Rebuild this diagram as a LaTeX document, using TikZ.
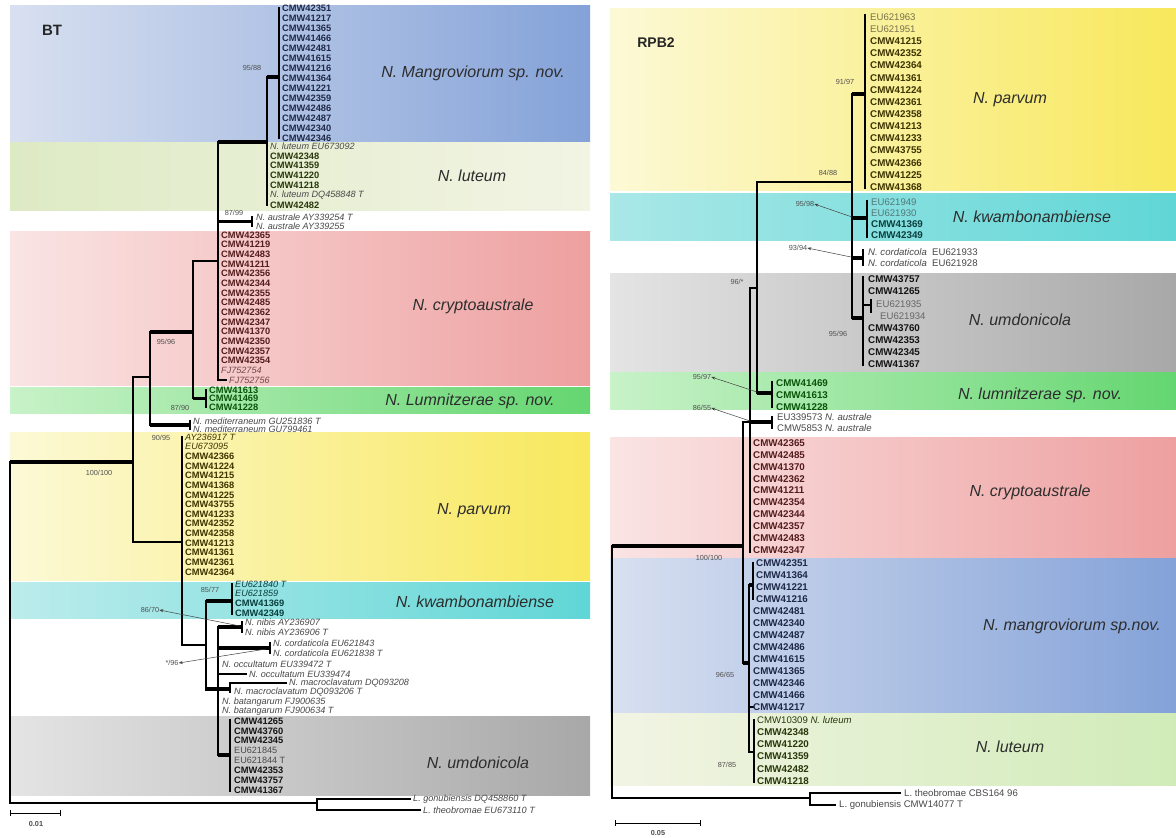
\documentclass[tikz,border=0pt]{standalone}
\usepackage{fontspec}
\setmainfont{Liberation Sans}
\usetikzlibrary{arrows.meta}
\definecolor{bgBlueL}{RGB}{216,224,240}\definecolor{bgBlueR}{RGB}{132,162,216}
\definecolor{bgLutL}{RGB}{222,234,196}\definecolor{bgLutR}{RGB}{242,244,228}
\definecolor{bgPinkL}{RGB}{250,228,228}\definecolor{bgPinkR}{RGB}{238,160,160}
\definecolor{bgGrnL}{RGB}{200,242,200}\definecolor{bgGrnR}{RGB}{100,214,112}
\definecolor{bgYelL}{RGB}{252,249,214}\definecolor{bgYelR}{RGB}{248,232,92}
\definecolor{bgCyaL}{RGB}{188,236,236}\definecolor{bgCyaR}{RGB}{96,214,214}
\definecolor{bgGryL}{RGB}{228,228,228}\definecolor{bgGryR}{RGB}{168,168,168}
\definecolor{tMang}{RGB}{30,40,72}
\definecolor{tLut}{RGB}{40,56,10}
\definecolor{tPink}{RGB}{84,28,28}
\definecolor{tGrn}{RGB}{10,84,10}
\definecolor{tYel}{RGB}{62,52,0}
\definecolor{tCya}{RGB}{10,62,62}
\definecolor{tGry}{RGB}{20,20,20}
\definecolor{gbc}{RGB}{72,72,72}
\definecolor{bsc}{RGB}{80,80,80}
\definecolor{cladec}{RGB}{45,45,45}
\tikzset{
  lf/.style={anchor=west,inner sep=0pt,font=\fontsize{9.3}{9.5}\selectfont\bfseries},
  rlf/.style={anchor=west,inner sep=0pt,font=\fontsize{9.8}{10}\selectfont\bfseries},
  gb/.style={anchor=west,inner sep=0pt,text=gbc,font=\fontsize{9.1}{9.5}\selectfont\itshape},
  rgb/.style={anchor=west,inner sep=0pt,text=gbc,font=\fontsize{9.6}{10}\selectfont},
  br/.style={line width=1.2pt,line cap=rect},
  tk/.style={line width=3.2pt},
  bs/.style={inner sep=0pt,text=bsc,font=\fontsize{7.3}{8}\selectfont},
  clade/.style={inner sep=0pt,text=cladec,font=\fontsize{16}{18}\selectfont\itshape},
  arr/.style={-{Stealth[length=4pt,width=3pt]},line width=0.5pt,draw=black!75},
}
\begin{document}
\begin{tikzpicture}[x=1pt,y=-1pt]
\useasboundingbox (0,0) rectangle (1176,838);
\fill[white] (0,0) rectangle (1176,838);
% ================= LEFT PANEL (BT) backgrounds
\shade[left color=bgBlueL,right color=bgBlueR] (10,5) rectangle (590,142);
\shade[left color=bgLutL,right color=bgLutR] (10,142) rectangle (590,210);
\shade[left color=bgPinkL,right color=bgPinkR] (10,231) rectangle (590,385);
\shade[left color=bgGrnL,right color=bgGrnR] (10,387) rectangle (590,413);
\shade[left color=bgYelL,right color=bgYelR] (10,432) rectangle (590,580);
\shade[left color=bgCyaL,right color=bgCyaR] (10,582) rectangle (590,618);
\shade[left color=bgGryL,right color=bgGryR] (10,716) rectangle (590,795);
% ================= RIGHT PANEL (RPB2) backgrounds
\shade[left color=bgYelL,right color=bgYelR] (610,8) rectangle (1176,190);
\shade[left color=bgCyaL!80!bgCyaR,right color=bgCyaR] (610,193) rectangle (1176,240);
\shade[left color=bgGryL,right color=bgGryR] (610,273) rectangle (1176,372);
\shade[left color=bgGrnL,right color=bgGrnR] (610,372) rectangle (1176,409);
\shade[left color=bgPinkL,right color=bgPinkR] (610,437) rectangle (1176,557);
\shade[left color=bgBlueL,right color=bgBlueR] (610,558) rectangle (1176,712);
\shade[left color=bgLutR,right color=bgLutL!90!green!60!bgLutL] (610,713) rectangle (1176,785);

% panel titles
\node[inner sep=0pt,font=\fontsize{15}{17}\selectfont\bfseries,text=black!85] (tBT) at (52,30) {BT};
\node[inner sep=0pt,font=\fontsize{14}{16}\selectfont\bfseries,text=black!85] (tRPB) at (656,43) {RPB2};

% clade labels left
\node[clade] (cL1) at (473,73) {N. Mangroviorum sp. nov.};
\node[clade] (cL2) at (472,176) {N. luteum};
\node[clade] (cL3) at (473,306) {N. cryptoaustrale};
\node[clade] (cL4) at (470,401) {N. Lumnitzerae sp. nov.};
\node[clade] (cL5) at (474,511) {N. parvum};
\node[clade] (cL6) at (475,602) {N. kwambonambiense};
\node[clade] (cL7) at (478,763) {N. umdonicola};
% clade labels right
\node[clade] (cR1) at (1010,100) {N. parvum};
\node[clade] (cR2) at (1032,217) {N. kwambonambiense};
\node[clade] (cR3) at (1020,320) {N. umdonicola};
\node[clade] (cR4) at (1040,395) {N. lumnitzerae sp. nov.};
\node[clade] (cR5) at (1030,492) {N. cryptoaustrale};
\node[clade] (cR6) at (1072,626) {N. mangroviorum sp.nov.};
\node[clade] (cR7) at (1010,747) {N. luteum};

% ================= LEFT TREE
\draw[br] (279,8)--(279,138);
\draw[tk] (267,77)--(279,77);
\draw[br] (267,77)--(267,205);
\draw[tk] (218,142)--(267,142);
\draw[br] (218,142)--(218,380);
\draw[tk] (218,221.5)--(252,221.5);
\draw[br] (252,217)--(252,226);
\draw[br] (218,380)--(226,380);
\draw[br] (193,261)--(218,261);
\draw[br] (193,261)--(193,398);
\draw[tk] (193,398.5)--(206,398.5);
\draw[br] (206,390)--(206,407);
\draw[tk] (150,332)--(193,332);
\draw[br] (150,332)--(150,425);
\draw[tk] (150,425)--(190,425);
\draw[br] (190,421)--(190,429);
\draw[br] (133,377)--(150,377);
\draw[br] (133,377)--(133,542);
\draw[tk] (10,462)--(133,462);
\draw[br] (133,542)--(182,542);
\draw[br] (182,437)--(182,645);
\draw[br] (182,645)--(206,645);
\draw[br] (206,601)--(206,690);
\draw[tk] (206,601)--(232,601);
\draw[br] (232,584)--(232,614);
\draw[tk] (206,689)--(230,689);
\draw[br] (218,627)--(218,755);
\draw[tk] (218,627)--(242,627);
\draw[br] (242,622)--(242,632);
\draw[tk] (218,648)--(270,648);
\draw[br] (270,643)--(270,653);
\draw[br] (218,674)--(246,674);
\draw[br] (230,683)--(230,692);
\draw[br] (230,683)--(286,683);
\draw[tk] (218,755)--(230,755);
\draw[br] (230,720)--(230,791);
\draw[br] (10,462)--(10,803);
\draw[br] (10,803)--(317,803);
\draw[br] (317,799)--(317,810);
\draw[br] (317,799)--(410,799);
\draw[br] (317,810)--(420,810);
\coordinate (nNib) at (240,626);
\coordinate (nCor) at (266,649);

% left leaves
\foreach [count=\i from 0] \t in {CMW42351,CMW41217,CMW41365,CMW41466,CMW42481,CMW41615,CMW41216,CMW41364,CMW41221,CMW42359,CMW42486,CMW42487,CMW42340,CMW42346}
  \node[lf,text=tMang] (Lm\i) at (282,8+10*\i) {\t};
\node[gb] (Ll0) at (270,146) {N. luteum EU673092};
\foreach [count=\i from 1] \t in {CMW42348,CMW41359,CMW41220,CMW41218}
  \node[lf,text=tLut] (Ll\i) at (270,146+9.83*\i) {\t};
\node[gb] (Ll5) at (270,195.2) {N. luteum DQ458848 T};
\node[lf,text=tLut] (Ll6) at (270,205) {CMW42482};
\node[gb] (La0) at (256,217) {N. australe AY339254 T};
\node[gb] (La1) at (256,226.5) {N. australe AY339255};
\foreach [count=\i from 0] \t in {CMW42365,CMW41219,CMW42483,CMW41211,CMW42356,CMW42344,CMW42355,CMW42485,CMW42362,CMW42347,CMW41370,CMW42350,CMW42357,CMW42354}
  \node[lf,text=tPink] (Lc\i) at (221,235+9.67*\i) {\t};
\node[gb,text=tPink!80] (Lc14) at (221,370.4) {FJ752754};
\node[gb,text=tPink!80] (Lc15) at (229,380) {FJ752756};
\node[lf,text=tGrn] (Lg0) at (209,390) {CMW41613};
\node[lf,text=tGrn] (Lg1) at (209,398.5) {CMW41469};
\node[lf,text=tGrn] (Lg2) at (209,407) {CMW41228};
\node[gb] (Ld0) at (193,421) {N. mediterraneum GU251836 T};
\node[gb] (Ld1) at (193,429.5) {N. mediterraneum GU799461};
\node[gb,text=tYel] (Lp0) at (185,437) {AY236917 T};
\node[gb,text=tYel] (Lp1) at (185,446.6) {EU673095};
\foreach [count=\i from 2] \t in {CMW42366,CMW41224,CMW41215,CMW41368,CMW41225,CMW43755,CMW41233,CMW42352,CMW42358,CMW41213,CMW41361,CMW42361,CMW42364}
  \node[lf,text=tYel] (Lp\i) at (185,437+9.64*\i) {\t};
\node[gb,text=tCya] (Lk0) at (235,584) {EU621840 T};
\node[gb,text=tCya] (Lk1) at (235,593.7) {EU621859};
\node[lf,text=tCya] (Lk2) at (235,603.3) {CMW41369};
\node[lf,text=tCya] (Lk3) at (235,613) {CMW42349};
\node[gb] (Ln0) at (245,622) {N. nibis AY236907};
\node[gb] (Ln1) at (245,632) {N. nibis AY236906 T};
\node[gb] (Lo0) at (273,643) {N. cordaticola EU621843};
\node[gb] (Lo1) at (273,653) {N. cordaticola EU621838 T};
\node[gb] (Lu0) at (222,664) {N. occultatum EU339472 T};
\node[gb] (Lu1) at (249,674) {N. occultatum EU339474};
\node[gb] (Lv0) at (289,683) {N. macroclavatum DQ093208};
\node[gb] (Lv1) at (234,692.5) {N. macroclavatum DQ093206 T};
\node[gb] (Lb0) at (222,702) {N. batangarum FJ900635};
\node[gb] (Lb1) at (222,711) {N. batangarum FJ900634 T};
\foreach [count=\i from 0] \t in {CMW41265,CMW43760,CMW42345}
  \node[lf,text=tGry] (Lx\i) at (234,721+9.86*\i) {\t};
\node[rgb,font=\fontsize{9.1}{9.5}\selectfont] (Lx3) at (234,750.6) {EU621845};
\node[rgb,font=\fontsize{9.1}{9.5}\selectfont] (Lx4) at (234,760.4) {EU621844 T};
\foreach [count=\i from 5] \t in {CMW42353,CMW43757,CMW41367}
  \node[lf,text=tGry] (Lx\i) at (234,721+9.86*\i) {\t};
\node[gb] (Lo2) at (413,799) {L. gonubiensis DQ458860 T};
\node[gb] (Lo3) at (423,810) {L. theobromae EU673110 T};

% left support values
\node[bs] (b1) at (252,68) {95/88};
\node[bs] (b2) at (234,213) {87/99};
\node[bs] (b3) at (166,342) {95/96};
\node[bs] (b4) at (180,408) {87/90};
\node[bs] (b5) at (161,438) {90/95};
\node[bs] (b6) at (99,473) {100/100};
\node[bs] (b7) at (210,590) {85/77};
\node[bs] (b8) at (150,610) {86/70};
\node[bs] (b9) at (172,663) {*/96};
\draw[arr] (nNib) -- (b8.east);
\draw[arr] (nCor) -- (b9.east);

% left scale bar
\draw[line width=1pt] (10,813)--(60,813);
\draw[line width=1pt] (10,810)--(10,816) (60,810)--(60,816);
\node[inner sep=0pt,font=\fontsize{7.3}{8}\selectfont\bfseries,text=black!70] (sc1) at (36,824) {0.01};

% ================= RIGHT TREE
\draw[br] (612,546)--(612,798);
\draw[tk] (612,546)--(743,546);
\draw[br] (743,422)--(743,663);
\draw[br] (743,422)--(750,422);
\draw[br] (750,288)--(750,552);
\draw[tk] (750,422)--(772,422);
\draw[br] (772,417)--(772,428);
\draw[br] (750,288)--(757,288);
\draw[br] (757,182)--(757,393);
\draw[tk] (757,393)--(772,393);
\draw[br] (772,382)--(772,407);
\draw[br] (757,182)--(852,182);
\draw[br] (852,94)--(852,318);
\draw[tk] (852,94)--(865,94);
\draw[br] (865,15)--(865,188);
\draw[tk] (852,218)--(867,218);
\draw[br] (867,201)--(867,237);
\draw[tk] (852,258)--(863,258);
\draw[br] (863,250)--(863,265);
\draw[tk] (852,318)--(863,318);
\draw[br] (863,277)--(863,365);
\draw[br] (863,305)--(871,305);
\draw[br] (871,300)--(871,312);
\draw[tk] (743,663)--(749,663);
\draw[br] (749,585)--(749,752);
\draw[tk] (749,585)--(753,585);
\draw[br] (753,563)--(753,599);
\draw[br] (749,707)--(753,707);
\draw[br] (749,752)--(754,752);
\draw[br] (754,720)--(754,782);
\draw[br] (612,798)--(810,798);
\draw[br] (810,793)--(810,805);
\draw[br] (810,793)--(900,793);
\draw[br] (810,805)--(835,805);
\coordinate (rKw) at (852,217);
\coordinate (rCo) at (851,257);
\coordinate (rLu) at (757,392);
\coordinate (rAu) at (750,421);

% right leaves
\node[rgb,text=tYel!70] (Rp0) at (870,17) {EU621963};
\node[rgb,text=tYel!70] (Rp1) at (870,29.1) {EU621951};
\foreach [count=\i from 2] \t in {CMW41215,CMW42352,CMW42364,CMW41361,CMW41224,CMW42361,CMW42358,CMW41213,CMW41233,CMW43755,CMW42366,CMW41225,CMW41368}
  \node[rlf,text=tYel] (Rp\i) at (870,17+12.14*\i) {\t};
\node[rgb,text=tCya!70] (Rk0) at (871,202) {EU621949};
\node[rgb,text=tCya!70] (Rk1) at (871,213) {EU621930};
\node[rlf,text=tCya] (Rk2) at (871,224) {CMW41369};
\node[rlf,text=tCya] (Rk3) at (871,235) {CMW42349};
\node[rgb] (Ro0) at (868,252) {\textit{N. cordaticola} \ EU621933};
\node[rgb] (Ro1) at (868,263) {\textit{N. cordaticola} \ EU621928};
\node[rlf,text=tGry] (Rx0) at (868,279.5) {CMW43757};
\node[rlf,text=tGry] (Rx1) at (868,291.5) {CMW41265};
\node[rgb,text=black!60] (Rx2) at (876,304.5) {EU621935};
\node[rgb,text=black!60] (Rx3) at (880,316.5) {EU621934};
\foreach [count=\i from 4] \t in {CMW43760,CMW42353,CMW42345,CMW41367}
  \node[rlf,text=tGry] (Rx\i) at (868,280+12*\i) {\t};
\node[rlf,text=tGrn] (Rg0) at (776,383) {CMW41469};
\node[rlf,text=tGrn] (Rg1) at (776,395) {CMW41613};
\node[rlf,text=tGrn] (Rg2) at (776,407) {CMW41228};
\node[rgb] (Ra0) at (777,417) {EU339573 \textit{N. australe}};
\node[rgb] (Ra1) at (777,428.5) {CMW5853 \textit{N. australe}};
\foreach [count=\i from 0] \t in {CMW42365,CMW42485,CMW41370,CMW42362,CMW41211,CMW42354,CMW42344,CMW42357,CMW42483,CMW42347}
  \node[rlf,text=tPink] (Rc\i) at (753,443+11.9*\i) {\t};
\foreach [count=\i from 0] \t in {CMW42351,CMW41364,CMW41221,CMW41216}
  \node[rlf,text=tMang] (Rm\i) at (756,563+12*\i) {\t};
\foreach [count=\i from 4] \t in {CMW42481,CMW42340,CMW42487,CMW42486,CMW41615,CMW41365,CMW42346,CMW41466,CMW41217}
  \node[rlf,text=tMang] (Rm\i) at (753,563+12*\i) {\t};
\node[rgb,text=tLut] (Rl0) at (757,720) {CMW10309 \textit{N. luteum}};
\foreach [count=\i from 1] \t in {CMW42348,CMW41220,CMW41359,CMW42482,CMW41218}
  \node[rlf,text=tLut] (Rl\i) at (757,720+12.2*\i) {\t};
\node[rgb] (Rq0) at (904,793) {L. theobromae CBS164 96};
\node[rgb] (Rq1) at (839,805) {L. gonubiensis CMW14077 T};

% right support values
\node[bs] (r1) at (845,82) {91/97};
\node[bs] (r2) at (828,173) {84/88};
\node[bs] (r3) at (805,204) {95/98};
\node[bs] (r4) at (798,248) {93/94};
\node[bs] (r5) at (737,282) {96/*};
\node[bs] (r6) at (838,334) {95/96};
\node[bs] (r7) at (702,377) {95/97};
\node[bs] (r8) at (702,408) {86/55};
\node[bs] (r9) at (709,558) {100/100};
\node[bs] (r10) at (725,675) {96/65};
\node[bs] (r11) at (727,765) {87/85};
\draw[arr] (rKw) -- (r3.east);
\draw[arr] (rCo) -- (r4.east);
\draw[arr] (rLu) -- (r7.east);
\draw[arr] (rAu) -- (r8.east);

% right scale bar
\draw[line width=1pt] (615,823)--(700,823);
\draw[line width=1pt] (615,820)--(615,826) (700,820)--(700,826);
\node[inner sep=0pt,font=\fontsize{7.3}{8}\selectfont\bfseries,text=black!70] (sc2) at (658,833) {0.05};
\end{tikzpicture}
\end{document}
